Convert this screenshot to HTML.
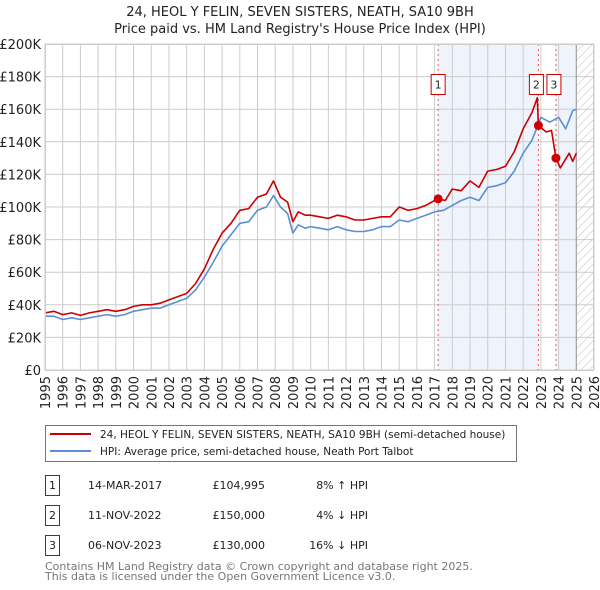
<!DOCTYPE html>
<html><head><meta charset="utf-8"><style>
body{margin:0;background:#fff;font-family:"DejaVu Sans","Liberation Sans",sans-serif;}
svg{display:block}
</style></head><body>
<svg id="c" width="600" height="590" xmlns="http://www.w3.org/2000/svg" font-family="DejaVu Sans, Liberation Sans, sans-serif">
<text x="300" y="16" text-anchor="middle" font-size="13" fill="#222">24, HEOL Y FELIN, SEVEN SISTERS, NEATH, SA10 9BH</text>
<text x="300" y="33" text-anchor="middle" font-size="13" fill="#222">Price paid vs. HM Land Registry's House Price Index (HPI)</text>
<defs><pattern id="h" width="6" height="6" patternUnits="userSpaceOnUse" patternTransform="rotate(45)"><line x1="0" y1="0" x2="0" y2="6" stroke="#bbb" stroke-width="1"/></pattern></defs>
<g id="plot"></g>
<g>
<rect x="45.5" y="425.5" width="471" height="36" fill="#fff" stroke="#777"/>
<line x1="50" y1="434" x2="91" y2="434" stroke="#cc0000" stroke-width="2"/>
<text x="100" y="438" font-size="10.5" fill="#222">24, HEOL Y FELIN, SEVEN SISTERS, NEATH, SA10 9BH (semi-detached house)</text>
<line x1="50" y1="451" x2="91" y2="451" stroke="#5b8fd4" stroke-width="2"/>
<text x="100" y="455" font-size="10.5" fill="#222">HPI: Average price, semi-detached house, Neath Port Talbot</text>
</g>
<g font-size="11" fill="#222">
<rect x="45.5" y="475.5" width="14" height="20" fill="#fff" stroke="#cc0000"/><text x="52.5" y="489" text-anchor="middle">1</text>
<text x="88" y="489">14-MAR-2017</text><text x="265" y="489" text-anchor="end">£104,995</text><text x="368" y="489" text-anchor="end">8% ↑ HPI</text>
<rect x="45.5" y="505.5" width="14" height="20" fill="#fff" stroke="#cc0000"/><text x="52.5" y="519" text-anchor="middle">2</text>
<text x="88" y="519">11-NOV-2022</text><text x="265" y="519" text-anchor="end">£150,000</text><text x="368" y="519" text-anchor="end">4% ↓ HPI</text>
<rect x="45.5" y="535.5" width="14" height="20" fill="#fff" stroke="#cc0000"/><text x="52.5" y="549" text-anchor="middle">3</text>
<text x="88" y="549">06-NOV-2023</text><text x="265" y="549" text-anchor="end">£130,000</text><text x="368" y="549" text-anchor="end">16% ↓ HPI</text>
</g>
<text x="45" y="570" font-size="11" fill="#777">Contains HM Land Registry data © Crown copyright and database right 2025.</text>
<text x="45" y="580" font-size="11" fill="#777">This data is licensed under the Open Government Licence v3.0.</text>
</svg>
<script>
const hpiYears=[1995,1995.5,1996,1996.5,1997,1997.5,1998,1998.5,1999,1999.5,2000,2000.5,2001,2001.5,2002,2002.5,2003,2003.5,2004,2004.5,2005,2005.5,2006,2006.5,2007,2007.5,2007.9,2008.3,2008.7,2009.0,2009.3,2009.7,2010,2010.5,2011,2011.5,2012,2012.5,2013,2013.5,2014,2014.5,2015,2015.5,2016,2016.5,2017,2017.5,2018,2018.5,2019,2019.5,2020,2020.5,2021,2021.5,2022,2022.5,2023,2023.5,2024,2024.4,2024.8,2025];
const hpiValues=[33,33,31,32,31,32,33,34,33,34,36,37,38,38,40,42,44,49,57,66,76,83,90,91,98,100,107,100,96,84,89,87,88,87,86,88,86,85,85,86,88,88,92,91,93,95,97,98,101,104,106,104,112,113,115,122,133,141,155,152,155,148,159,160];
const priceYears=[1995,1995.5,1996,1996.5,1997,1997.5,1998,1998.5,1999,1999.5,2000,2000.5,2001,2001.5,2002,2002.5,2003,2003.5,2004,2004.5,2005,2005.5,2006,2006.5,2007,2007.5,2007.9,2008.3,2008.7,2009.0,2009.3,2009.7,2010,2010.5,2011,2011.5,2012,2012.5,2013,2013.5,2014,2014.5,2015,2015.5,2016,2016.5,2017,2017.2,2017.6,2018,2018.5,2019,2019.5,2020,2020.5,2021,2021.5,2022,2022.5,2022.8,2022.86,2023.3,2023.6,2023.85,2024.1,2024.6,2024.8,2025];
const priceValues=[35,36,34,35,33.5,35,36,37,36,37,39,40,40,41,43,45,47,53,62,74,84,90,98,99,106,108,116,106,103,91,97,95,95,94,93,95,94,92,92,93,94,94,100,98,99,101,104,105,104,111,110,116,112,122,123,125,134,148,158,167,150,146,147,130,124,133,128,133];
const sales=[[2017.2,104995,"1"],[2022.86,150000,"2"],[2023.85,130000,"3"]];
const yTicks=[0,20,40,60,80,100,120,140,160,180,200];
const yLabels=["£0","£20K","£40K","£60K","£80K","£100K","£120K","£140K","£160K","£180K","£200K"];
const xTicks=[1995,1996,1997,1998,1999,2000,2001,2002,2003,2004,2005,2006,2007,2008,2009,2010,2011,2012,2013,2014,2015,2016,2017,2018,2019,2020,2021,2022,2023,2024,2025,2026];

const L=45,R=594,T=44,B=370;
const x=v=>L+(v-1995)/(2026-1995)*(R-L);
const y=v=>B-v/200*(B-T);
const g=document.getElementById('plot');
const NS='http://www.w3.org/2000/svg';
function mk(tag,attrs,parent){const e=document.createElementNS(NS,tag);for(const k in attrs)e.setAttribute(k,attrs[k]);(parent||g).appendChild(e);return e;}
let e;
e=mk('rect',{x:x(2017.2),y:T,width:x(2022.86)-x(2017.2),height:B-T,fill:'#eef3fc'});


e=mk('rect',{x:x(2023.85),y:T,width:x(2025)-x(2023.85),height:B-T,fill:'#eef3fc'});


e=mk('rect',{x:x(2025),y:T,width:R-x(2025),height:B-T,fill:'url(#h)'});


yTicks.forEach((t,i)=>{
 e=mk('line',{x1:L,x2:R,y1:y(t),y2:y(t),stroke:'#ccc','stroke-width':1});
 
 
 e=mk('text',{x:L-4,y:y(t)+5,'text-anchor':'end','font-size':13,fill:'#222'});
 e.textContent=yLabels[i];
 
 
});
xTicks.forEach(t=>{
 e=mk('line',{x1:x(t),x2:x(t),y1:T,y2:B,stroke:'#ccc','stroke-width':1});
 
 
 e=mk('text',{x:0,y:0,'text-anchor':'end','font-size':13,fill:'#222',transform:`translate(${x(t)+5},${B+6}) rotate(-90)`});
 e.textContent=t;
 
 
});
e=mk('line',{x1:x(2025),x2:x(2025),y1:T,y2:B,stroke:'#999','stroke-width':1});


sales.forEach(s=>{
 e=mk('line',{x1:x(s[0]),x2:x(s[0]),y1:T,y2:B,stroke:'#e55','stroke-width':1,'stroke-dasharray':'2,3'});
 
 
});
function path(xs,vs,col,name){
 let d=xs.map((v,i)=>(i?'L':'M')+x(v).toFixed(1)+','+y(vs[i]).toFixed(1)).join('');
 e=mk('path',{d:d,fill:'none',stroke:col,'stroke-width':1.6,'stroke-linejoin':'round'});
 
 
}
path(hpiYears,hpiValues,'#5b8fd4','hpi-line');
path(priceYears,priceValues,'#cc0000','price-line');
sales.forEach(s=>{
 e=mk('circle',{cx:x(s[0]),cy:y(s[1]/1000),r:4.5,fill:'#cc0000'});
 
 
});
const boxX=[x(2017.2)-0.5,x(2022.86)-2.5,x(2023.85)-2.5];
sales.forEach((s,i)=>{
 e=mk('rect',{x:boxX[i]-6.5,y:74.5,width:14,height:20,fill:'#fff',stroke:'#cc0000'});
 
 
 e=mk('text',{x:boxX[i]+0.5,y:88.5,'text-anchor':'middle','font-size':11,fill:'#222'});
 e.textContent=s[2];
 
 
});
e=mk('rect',{x:L+0.5,y:T+0.5,width:R-L-1,height:B-T,fill:'none',stroke:'#ccc'});


</script>
</body></html>
